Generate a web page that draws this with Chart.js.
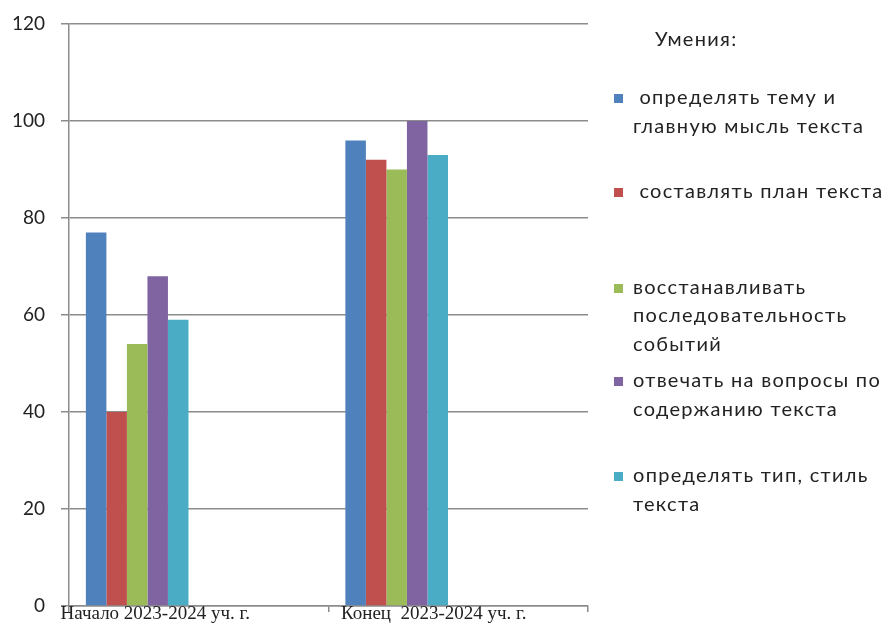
<!DOCTYPE html>
<html lang="ru">
<head>
<meta charset="utf-8">
<script src="https://cdn.jsdelivr.net/npm/chart.js@4.4.0/dist/chart.umd.min.js"></script>
<style>
  body { margin: 0; background: #fff; }
  #wrap { position: relative; width: 883px; height: 625px; }
  #legend { position: absolute; left: 0; top: 0; width: 883px; height: 625px; font-family: Lato, sans-serif; font-size: 20px; letter-spacing: 1.3px; color: #222; pointer-events: none; }
  .title { position: absolute; left: 655px; top: 24px; line-height: 28.8px; white-space: nowrap; }
  .item { position: absolute; left: 614px; }
  .box { position: absolute; left: 0; top: 12px; width: 9px; height: 9px; }
  .txt { position: absolute; left: 19px; top: 0; line-height: 28.8px; white-space: nowrap; }
</style>
</head>
<body>
<div id="wrap">
  <canvas id="bar-chart" width="883" height="625"></canvas>
  <div id="legend"></div>
</div>
<script>
const categories = ['Начало 2023-2024 уч. г.', 'Конец  2023-2024 уч. г.'];
const skillNames = [
  ['\u00a0определять тему и', 'главную мысль текста'],
  ['\u00a0составлять план текста'],
  ['восстанавливать', 'последовательность', 'событий'],
  ['отвечать на вопросы по', 'содержанию текста'],
  ['определять тип, стиль', 'текста'],
];
const themeValues = [77, 96];
const planValues = [40, 92];
const orderValues = [54, 90];
const answerValues = [68, 100];
const typeValues = [59, 93];
const yTicks = [0, 20, 40, 60, 80, 100, 120];
const colors = ['#4F81BD', '#C0504D', '#9BBB59', '#8064A2', '#4BACC6'];

const series = [themeValues, planValues, orderValues, answerValues, typeValues];
const datasets = series.map((vals, i) => ({
  label: skillNames[i].join(' '),
  data: vals,
  backgroundColor: colors[i],
  borderWidth: 0,
}));
// empty series slots, as in the source sheet, keep the bars at the left of each group
for (let i = 0; i < 6; i++) {
  datasets.push({ label: '', data: [null, null], backgroundColor: 'rgba(0,0,0,0)' });
}

const gridColor = '#8c8c8c';

new Chart(document.getElementById('bar-chart'), {
  type: 'bar',
  data: { labels: categories, datasets: datasets },
  options: {
    responsive: false,
    animation: false,
    layout: { padding: { top: 24, right: 295, bottom: 0, left: 0 } },
    categoryPercentage: 0.87,
    barPercentage: 1,
    plugins: { legend: { display: false }, tooltip: { enabled: false } },
    scales: {
      x: {
        afterFit: (s) => { s.height = 19; },
        grid: { drawOnChartArea: false, drawTicks: true, tickLength: 6, color: gridColor, lineWidth: 1.5, offset: true },
        border: { color: gridColor, width: 1.5 },
        ticks: {
          font: { family: '"Liberation Serif", serif', size: 19 },
          color: '#222',
          padding: -9,
          labelOffset: -34,
          maxRotation: 0,
          // labels in the source sit a little off the group centres
          callback: (v, i) => (i === 0 ? categories[i] + '    ' : '    ' + categories[i]),
        },
      },
      y: {
        min: 0,
        max: 120,
        afterFit: (s) => { s.width = 69; },
        afterBuildTicks: (s) => { s.ticks = yTicks.map(v => ({ value: v })); },
        grid: { color: gridColor, lineWidth: 1.5, tickLength: 8 },
        border: { color: gridColor, width: 1.5 },
        ticks: {
          font: { family: 'Lato, sans-serif', size: 19, lineHeight: 0.3 },
          color: '#222',
          padding: 16,
        },
      },
    },
  },
});

// legend on the right
const legend = document.getElementById('legend');
const title = document.createElement('div');
title.className = 'title';
title.textContent = 'Умения:';
legend.appendChild(title);
const itemTops = [82, 175.5, 271.5, 365, 460];
skillNames.forEach((lines, i) => {
  const item = document.createElement('div');
  item.className = 'item';
  item.style.top = itemTops[i] + 'px';
  const box = document.createElement('div');
  box.className = 'box';
  box.style.background = colors[i];
  const txt = document.createElement('div');
  txt.className = 'txt';
  txt.innerHTML = lines.join('<br>');
  item.appendChild(box);
  item.appendChild(txt);
  legend.appendChild(item);
});
</script>
</body>
</html>
